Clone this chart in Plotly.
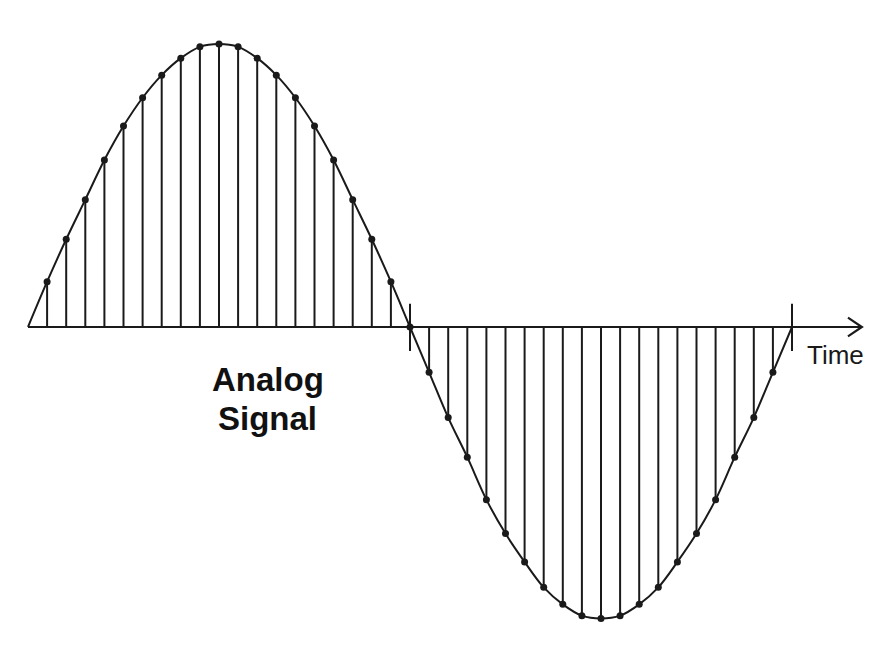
import plotly.graph_objects as go

samples = list(range(41))
values = [0.00, 0.16, 0.31, 0.45, 0.59, 0.71, 0.81, 0.89, 0.95, 0.99, 1.00,
          0.99, 0.95, 0.89, 0.81, 0.71, 0.59, 0.45, 0.31, 0.16, 0.00,
          -0.16, -0.32, -0.46, -0.61, -0.73, -0.83, -0.92, -0.98, -1.02, -1.03,
          -1.02, -0.98, -0.92, -0.83, -0.73, -0.61, -0.46, -0.32, -0.16, 0.00]
tick_marks = [20, 40]
axis_label = "Time"
title_lines = ["Analog", "Signal"]

ink = "#1a1a1a"
fig = go.Figure()

# stems
sx, sy = [], []
for t, v in zip(samples, values):
    sx += [t, t, None]
    sy += [0, v, None]
fig.add_trace(go.Scatter(x=sx, y=sy, mode="lines", line=dict(color=ink, width=2),
                         hoverinfo="skip"))

# time axis
fig.add_trace(go.Scatter(x=[0, 43.66], y=[0, 0], mode="lines",
                         line=dict(color=ink, width=2.2), hoverinfo="skip"))
# arrow head
fig.add_trace(go.Scatter(x=[42.93, 43.66, 42.93], y=[0.033, 0, -0.033], mode="lines",
                         line=dict(color=ink, width=2.2), hoverinfo="skip"))
# tick marks at period boundaries
tx, ty = [], []
for t in tick_marks:
    tx += [t, t, None]
    ty += [0.082, -0.085, None]
fig.add_trace(go.Scatter(x=tx, y=ty, mode="lines", line=dict(color=ink, width=2),
                         hoverinfo="skip"))

# analog curve
fig.add_trace(go.Scatter(x=samples, y=values, mode="lines", line_shape="spline",
                         line=dict(color=ink, width=2), hoverinfo="skip"))
# sample dots
fig.add_trace(go.Scatter(x=samples[1:-1], y=values[1:-1], mode="markers",
                         marker=dict(color=ink, size=7), hoverinfo="skip"))

fig.add_annotation(x=42.3, y=-0.1, text=axis_label, showarrow=False,
                   xanchor="center", yanchor="middle",
                   font=dict(family="Liberation Sans, Arial", size=26, color=ink))
for yy, line in zip([-0.187, -0.322], title_lines):
    fig.add_annotation(x=12.54, y=yy, text="<b>" + line + "</b>",
                       showarrow=False, xanchor="center", yanchor="middle",
                       font=dict(family="Liberation Sans, Arial", size=33, color="#111"))

W, H = 876, 634
x0_px, y0_px = 20, 319
px_per_x = (792 - 28) / 40
px_per_y = 283
fig.update_layout(
    width=W, height=H,
    margin=dict(l=0, r=0, t=0, b=0),
    paper_bgcolor="white", plot_bgcolor="white",
    showlegend=False,
    xaxis=dict(range=[-x0_px / px_per_x, (W - x0_px) / px_per_x], visible=False, fixedrange=True),
    yaxis=dict(range=[-(H - y0_px) / px_per_y, y0_px / px_per_y], visible=False, fixedrange=True),
)
fig.write_html("out.html")
